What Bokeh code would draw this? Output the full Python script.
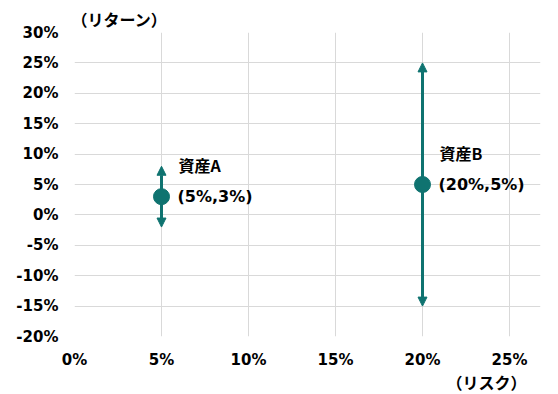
from bokeh.plotting import figure
from bokeh.models import ColumnDataSource, Arrow, NormalHead, Title, FixedTicker, PrintfTickFormatter
from bokeh.core.properties import value
from bokeh.embed import file_html
from bokeh.resources import INLINE

# data
assets = ["資産A", "資産B"]
risk = [5, 20]
ret = [3, 5]
coord_labels = ["(5%,3%)", "(20%,5%)"]
x_ticks = [0, 5, 10, 15, 20, 25]
y_ticks = [-20, -15, -10, -5, 0, 5, 10, 15, 20, 25, 30]

lo = [r - s for r, s in zip(ret, risk)]
hi = [r + s for r, s in zip(ret, risk)]
src = ColumnDataSource(dict(x=risk, y=ret, lo=lo, hi=hi, name=assets, lab=coord_labels))

TEAL = "#0f7370"
GRID = "#d9d9d9"
JP = "Noto Sans CJK JP"
NUM = "DejaVu Sans"

# frame extends past 25% (to leave room for the right-hand label); grid is bounded to 0..25
x_end = 25 + 31 / 87 * 5

p = figure(width=550, height=394, output_backend="svg", toolbar_location=None,
           x_range=(0, x_end), y_range=(-20, 30),
           min_border_left=74, min_border_right=10, min_border_top=32, min_border_bottom=58)
p.outline_line_color = None
p.background_fill_color = "white"
p.border_fill_color = "white"

for ax, ticks in ((p.xaxis[0], x_ticks), (p.yaxis[0], y_ticks)):
    ax.ticker = FixedTicker(ticks=ticks)
    ax.formatter = PrintfTickFormatter(format="%d%%")
    ax.axis_line_color = None
    ax.major_tick_line_color = None
    ax.minor_tick_line_color = None
    ax.major_tick_out = 0
    ax.major_tick_in = 0
    ax.major_label_text_font = NUM
    ax.major_label_text_font_style = "bold"
    ax.major_label_text_font_size = "15px"
    ax.major_label_text_color = "#000000"
p.xaxis.major_label_standoff = 14
p.yaxis.major_label_standoff = 16

p.xgrid.grid_line_color = GRID
p.ygrid.grid_line_color = GRID
p.xgrid.ticker = FixedTicker(ticks=x_ticks)
p.ygrid.ticker = FixedTicker(ticks=y_ticks)
p.ygrid.bounds = (0, 25)
p.xgrid.bounds = (-20, 30)

p.add_layout(Arrow(source=src, x_start="x", y_start="lo", x_end="x", y_end="hi",
                   line_color=TEAL, line_width=3,
                   start=NormalHead(size=9, fill_color=TEAL, line_color=TEAL),
                   end=NormalHead(size=9, fill_color=TEAL, line_color=TEAL)))
p.scatter("x", "y", source=src, size=16, fill_color=TEAL, line_color=TEAL)

p.text("x", "y", text="name", source=src, x_offset=17, y_offset=-32,
       text_font=value(JP), text_font_style="bold", text_font_size="16px",
       text_baseline="middle", text_align="left", text_color="#000000")
p.text("x", "y", text="lab", source=src, x_offset=16, y_offset=0,
       text_font=value(NUM), text_font_style="bold", text_font_size="16px",
       text_baseline="middle", text_align="left", text_color="#000000")

p.add_layout(Title(text="（リターン）", align="left", offset=-3, text_font=JP,
                   text_font_style="bold", text_font_size="16px", text_color="#000000",
                   standoff=3), "above")
p.add_layout(Title(text="（リスク）", align="right", offset=14, text_font=JP,
                   text_font_style="bold", text_font_size="16px", text_color="#000000",
                   standoff=-8), "below")

open("out.html", "w").write(file_html(p, INLINE))
